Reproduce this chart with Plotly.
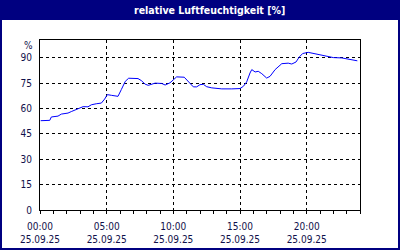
import plotly.graph_objects as go

times = ["00:03","00:44","00:51","01:21","01:36","02:06","02:21","02:51","03:14","03:36",
         "03:51","04:13","04:36","04:51","05:03","05:21","05:51","06:06","06:24","06:39",
         "07:21","07:36","07:53","08:07","08:38","09:08","09:23","09:45","10:08","10:15",
         "10:49","11:07","11:30","11:45","12:00","12:15","12:30","12:53","13:38","14:23",
         "15:00","15:15","15:30","15:45","15:53","16:08","16:22","16:38","17:00","17:15",
         "17:38","18:08","18:37","18:53","19:12","19:27","19:42","20:07","20:30","20:52",
         "21:30","22:00","22:38","23:15","23:48"]
humidity = [52.8,53.0,55.0,55.5,56.7,57.3,58.2,59.8,61.1,61.0,
            62.2,62.8,63.2,65.6,68.2,67.8,67.2,71.2,76.1,77.9,
            77.7,76.5,74.4,73.7,75.0,74.8,73.9,75.2,78.0,78.7,
            78.5,76.1,72.8,72.8,74.1,74.3,72.9,72.2,71.6,71.6,
            71.8,73.1,75.7,81.0,83.0,81.6,82.0,80.6,78.0,79.0,
            83.0,86.5,86.8,86.3,87.5,90.5,92.5,93.2,92.6,91.8,
            90.9,90.1,89.9,89.1,88.2]
date = "2025-09-25"
title = "relative Luftfeuchtigkeit [%]"
unit = "%"
y_ticks = [0, 15, 30, 45, 60, 75, 90]

x = [f"{date} {t}" for t in times]
navy = "#000080"
lab = "#10104a"

fig = go.Figure()
fig.add_trace(go.Scatter(x=x, y=humidity, mode="lines",
                         line=dict(color="#0000ff", width=1), hoverinfo="skip"))

fig.update_layout(
    width=400, height=250,
    margin=dict(l=40, r=40, t=40, b=40),
    paper_bgcolor="white", plot_bgcolor="white",
    showlegend=False,
    font=dict(family="DejaVu Sans Condensed, DejaVu Sans", size=10, color=lab),
    xaxis=dict(
        type="date",
        range=[f"{date} 00:00", "2025-09-26 00:00"],
        tick0=f"{date} 00:00", dtick=5 * 3600000,
        tickformat="%H:%M<br>%d.%m.%y",
        showgrid=True, gridcolor="black", gridwidth=1, griddash="3px,3px",
        showline=True, linecolor="black", linewidth=1, mirror=True,
        ticks="outside", ticklen=3, tickcolor="black",
        ticklabelstandoff=4, automargin=False,
        minor=dict(dtick=3600000, tick0=f"{date} 00:00", ticks="outside",
                   ticklen=3, tickcolor="black", showgrid=False),
        zeroline=False, fixedrange=True,
        tickfont=dict(size=10, color=lab),
    ),
    yaxis=dict(
        range=[0, 100.5],
        tickvals=y_ticks,
        showgrid=True, gridcolor="black", gridwidth=1, griddash="3px,3px",
        showline=True, linecolor="black", linewidth=1, mirror=True,
        ticks="", ticklabelstandoff=5, automargin=False,
        zeroline=False, fixedrange=True,
        tickfont=dict(size=10, color=lab),
    ),
    shapes=[
        dict(type="rect", xref="paper", yref="paper",
             x0=-40/320, x1=360/320, y0=(210-20)/170, y1=210/170,
             fillcolor=navy, line=dict(width=0), layer="below"),
        dict(type="rect", xref="paper", yref="paper",
             x0=-39/320, x1=359/320, y0=-39/170, y1=209/170,
             fillcolor="rgba(0,0,0,0)", line=dict(color=navy, width=2)),
    ],
    annotations=[
        dict(text=f"<b>{title}</b>", xref="paper", yref="paper",
             x=(209-40)/320, y=(210-10)/170, showarrow=False,
             xanchor="center", yanchor="middle",
             font=dict(family="DejaVu Sans Condensed, DejaVu Sans", size=10.5, color="white")),
        dict(text=unit, xref="paper", yref="paper",
             x=(35-40)/320, y=(210-45)/170, showarrow=False,
             xanchor="right", yanchor="middle",
             font=dict(size=10, color=lab)),
    ],
)

fig.write_html("out.html")
